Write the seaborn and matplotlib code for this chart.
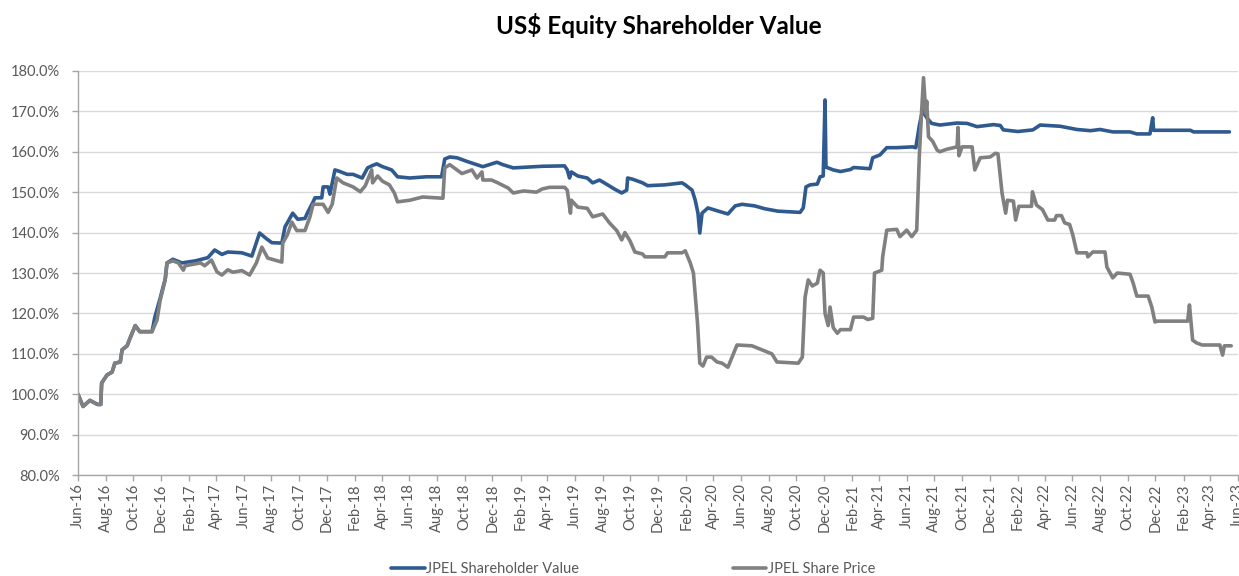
import matplotlib
matplotlib.use("Agg")
import matplotlib.pyplot as plt
import matplotlib.dates as mdates
from matplotlib.ticker import PercentFormatter, MultipleLocator
import seaborn as sns
import pandas as pd

# Series (valores en %)
fechas_precio = [
    "2016-06-01", "2016-06-12", "2016-06-27", "2016-07-14", "2016-07-21", "2016-07-23",
    "2016-08-04", "2016-08-15", "2016-08-21", "2016-09-02", "2016-09-06", "2016-09-17",
    "2016-09-24", "2016-10-05", "2016-10-15", "2016-11-11", "2016-11-22", "2016-11-29",
    "2016-12-10", "2016-12-14", "2016-12-27", "2017-01-08", "2017-01-19", "2017-01-23",
    "2017-02-26", "2017-03-07", "2017-03-22", "2017-04-03", "2017-04-14", "2017-04-27",
    "2017-05-08", "2017-05-28", "2017-06-14", "2017-06-29", "2017-07-11", "2017-07-24",
    "2017-08-24", "2017-08-26", "2017-09-05", "2017-09-15", "2017-09-26", "2017-10-14",
    "2017-10-25", "2017-11-01", "2017-11-23", "2017-12-04", "2017-12-13", "2017-12-23",
    "2018-01-06", "2018-01-28", "2018-02-13", "2018-02-24", "2018-03-10", "2018-03-12",
    "2018-03-23", "2018-04-03", "2018-04-18", "2018-04-29", "2018-05-06", "2018-06-02",
    "2018-06-30", "2018-08-14", "2018-08-18", "2018-08-29", "2018-09-14", "2018-09-25",
    "2018-10-17", "2018-10-28", "2018-11-08", "2018-11-10", "2018-11-29", "2018-12-13",
    "2019-01-05", "2019-01-16", "2019-02-08", "2019-03-08", "2019-03-21", "2019-04-06",
    "2019-05-09", "2019-05-15", "2019-05-22", "2019-05-24", "2019-06-07", "2019-06-28",
    "2019-07-10", "2019-08-01", "2019-08-16", "2019-09-01", "2019-09-12", "2019-09-19",
    "2019-09-30", "2019-10-11", "2019-10-28", "2019-11-02", "2019-12-16", "2019-12-22",
    "2020-01-23", "2020-01-30", "2020-02-10", "2020-02-17", "2020-02-26", "2020-03-02",
    "2020-03-09", "2020-03-17", "2020-03-28", "2020-04-09", "2020-04-20", "2020-05-03",
    "2020-05-12", "2020-05-23", "2020-06-25", "2020-07-17", "2020-08-08", "2020-08-19",
    "2020-10-05", "2020-10-14", "2020-10-20", "2020-10-27", "2020-11-05", "2020-11-16",
    "2020-11-22", "2020-11-29", "2020-12-03", "2020-12-10", "2020-12-14", "2020-12-21",
    "2020-12-30", "2021-01-06", "2021-01-28", "2021-02-04", "2021-02-26", "2021-03-07",
    "2021-03-18", "2021-03-22", "2021-04-07", "2021-04-09", "2021-04-18", "2021-05-10",
    "2021-05-17", "2021-06-01", "2021-06-12", "2021-06-23", "2021-06-29", "2021-07-04",
    "2021-07-08", "2021-07-13", "2021-07-15", "2021-07-19", "2021-07-28", "2021-08-07",
    "2021-08-13", "2021-08-28", "2021-09-20", "2021-09-22", "2021-09-24", "2021-10-01",
    "2021-10-23", "2021-10-29", "2021-11-10", "2021-12-02", "2021-12-13", "2021-12-19",
    "2021-12-28", "2022-01-05", "2022-01-09", "2022-01-22", "2022-01-27", "2022-02-03",
    "2022-03-03", "2022-03-05", "2022-03-14", "2022-03-27", "2022-04-08", "2022-04-23",
    "2022-04-27", "2022-05-08", "2022-05-15", "2022-05-26", "2022-06-02", "2022-06-11",
    "2022-07-03", "2022-07-05", "2022-07-16", "2022-08-12", "2022-08-16", "2022-08-29",
    "2022-09-08", "2022-10-06", "2022-10-13", "2022-10-21", "2022-11-15", "2022-11-23",
    "2022-11-30", "2022-12-05", "2023-02-10", "2023-02-14", "2023-02-21", "2023-03-02",
    "2023-03-14", "2023-04-22", "2023-04-28", "2023-05-02", "2023-05-17",
]
valores_precio = [
    100.0, 97.0, 98.5, 97.5, 97.5, 102.8,
    104.8, 105.5, 107.7, 108.0, 111.0, 112.0,
    114.0, 117.0, 115.5, 115.5, 118.4, 123.3,
    128.3, 132.5, 133.0, 132.5, 130.7, 131.8,
    132.5, 131.8, 133.2, 130.3, 129.5, 130.8,
    130.2, 130.6, 129.5, 132.5, 136.4, 133.7,
    132.7, 137.4, 139.4, 142.6, 140.5, 140.5,
    143.9, 147.0, 147.0, 145.0, 147.0, 153.5,
    152.3, 151.3, 150.1, 151.6, 155.5, 152.3,
    154.0, 152.7, 151.8, 149.8, 147.6, 148.0,
    148.8, 148.5, 156.0, 156.8, 155.5, 154.6,
    155.5, 153.5, 155.0, 153.0, 153.0, 152.3,
    151.0, 149.8, 150.3, 150.0, 150.8, 151.2,
    151.2, 150.5, 144.8, 148.0, 146.3, 146.0,
    143.9, 144.6, 142.4, 140.5, 138.2, 140.0,
    138.0, 135.2, 134.7, 134.0, 134.0, 135.0,
    135.0, 135.5, 132.5, 130.0, 117.6, 107.7,
    107.0, 109.2, 109.2, 108.0, 107.7, 106.7,
    109.2, 112.2, 112.0, 111.0, 110.0, 108.0,
    107.7, 109.2, 124.0, 128.3, 126.8, 127.5,
    130.7, 130.0, 120.0, 117.0, 121.6, 116.5,
    115.1, 116.0, 116.0, 119.1, 119.1, 118.5,
    118.8, 130.0, 130.7, 134.0, 140.6, 140.8,
    139.0, 140.6, 139.0, 140.6, 159.6, 170.3,
    178.3, 169.5, 172.5, 163.7, 162.6, 160.4,
    160.0, 160.6, 161.2, 166.0, 159.0, 161.2,
    161.2, 155.5, 158.5, 158.7, 159.6, 159.5,
    149.8, 144.8, 148.0, 147.8, 143.1, 146.5,
    146.5, 150.1, 146.8, 145.7, 143.1, 143.1,
    144.2, 144.2, 142.4, 142.0, 139.4, 135.0,
    135.0, 134.0, 135.2, 135.2, 131.5, 128.8,
    130.0, 129.7, 127.5, 124.3, 124.3, 121.6,
    117.9, 118.1, 118.1, 122.1, 113.4, 112.7,
    112.2, 112.2, 109.7, 112.0, 112.0,
]

fechas_valor = [
    "2016-06-01", "2016-06-12", "2016-06-27", "2016-07-14", "2016-07-21", "2016-07-23",
    "2016-08-04", "2016-08-15", "2016-08-21", "2016-09-02", "2016-09-06", "2016-09-17",
    "2016-09-24", "2016-10-05", "2016-10-15", "2016-11-11", "2016-11-17", "2016-11-29",
    "2016-12-10", "2016-12-14", "2016-12-27", "2017-01-16", "2017-02-14", "2017-03-14",
    "2017-03-29", "2017-04-14", "2017-04-27", "2017-05-28", "2017-06-19", "2017-07-06",
    "2017-07-21", "2017-08-02", "2017-08-24", "2017-08-31", "2017-09-17", "2017-09-28",
    "2017-10-14", "2017-10-20", "2017-11-01", "2017-11-05", "2017-11-20", "2017-11-23",
    "2017-12-04", "2017-12-08", "2017-12-19", "2017-12-30", "2018-01-15", "2018-01-28",
    "2018-02-17", "2018-03-01", "2018-03-10", "2018-03-21", "2018-04-03", "2018-04-23",
    "2018-05-06", "2018-06-02", "2018-07-09", "2018-08-11", "2018-08-18", "2018-08-29",
    "2018-09-14", "2018-10-06", "2018-10-28", "2018-11-10", "2018-12-11", "2018-12-24",
    "2019-01-16", "2019-02-16", "2019-03-21", "2019-05-09", "2019-05-15", "2019-05-20",
    "2019-05-24", "2019-06-07", "2019-06-28", "2019-07-10", "2019-07-25", "2019-08-12",
    "2019-08-28", "2019-09-12", "2019-09-23", "2019-09-25", "2019-10-06", "2019-10-28",
    "2019-11-08", "2019-12-16", "2020-01-23", "2020-01-30", "2020-02-14", "2020-02-21",
    "2020-02-27", "2020-03-02", "2020-03-07", "2020-03-20", "2020-04-12", "2020-05-03",
    "2020-05-19", "2020-06-03", "2020-07-01", "2020-07-23", "2020-08-21", "2020-10-09",
    "2020-10-16", "2020-10-22", "2020-10-31", "2020-11-16", "2020-11-22", "2020-11-29",
    "2020-12-03", "2020-12-05", "2020-12-21", "2021-01-06", "2021-01-28", "2021-02-04",
    "2021-03-12", "2021-03-18", "2021-04-03", "2021-04-18", "2021-05-10", "2021-06-14",
    "2021-06-21", "2021-06-29", "2021-07-06", "2021-07-15", "2021-07-26", "2021-08-13",
    "2021-09-20", "2021-10-12", "2021-11-03", "2021-12-09", "2021-12-24", "2021-12-31",
    "2022-02-01", "2022-03-06", "2022-03-22", "2022-05-05", "2022-06-11", "2022-07-11",
    "2022-08-01", "2022-08-29", "2022-10-06", "2022-10-21", "2022-11-19", "2022-11-25",
    "2022-11-27", "2023-02-16", "2023-02-23", "2023-05-13",
]
valores_valor = [
    100.0, 97.0, 98.5, 97.5, 97.5, 102.8,
    104.8, 105.5, 107.7, 108.0, 111.0, 112.0,
    114.0, 117.0, 115.5, 115.5, 119.0, 123.8,
    128.5, 132.5, 133.4, 132.5, 133.0, 133.8,
    135.7, 134.6, 135.2, 135.0, 134.2, 139.9,
    138.5, 137.5, 137.4, 141.4, 144.8, 143.3,
    143.5, 145.0, 147.6, 148.6, 148.6, 151.3,
    151.3, 149.5, 155.5, 155.1, 154.4, 154.4,
    153.5, 156.0, 156.5, 157.0, 156.3, 155.5,
    153.8, 153.5, 153.8, 153.8, 158.2, 158.7,
    158.5, 157.6, 156.8, 156.3, 157.4, 156.8,
    156.0, 156.2, 156.4, 156.5, 155.5, 153.5,
    155.0, 154.0, 153.5, 152.3, 153.0, 151.8,
    150.7, 149.8, 150.5, 153.5, 153.2, 152.3,
    151.6, 151.8, 152.3, 151.8, 150.5, 148.0,
    144.8, 139.9, 144.8, 146.1, 145.3, 144.6,
    146.6, 147.0, 146.6, 145.9, 145.3, 145.0,
    146.1, 151.3, 151.8, 152.0, 153.8, 154.0,
    172.8, 156.2, 155.5, 155.1, 155.6, 156.1,
    155.8, 158.5, 159.2, 161.0, 161.0, 161.2,
    161.0, 166.6, 170.3, 168.4, 167.0, 166.6,
    167.1, 167.0, 166.2, 166.7, 166.5, 165.4,
    165.0, 165.4, 166.6, 166.3, 165.5, 165.2,
    165.5, 164.9, 164.9, 164.4, 164.4, 168.4,
    165.3, 165.3, 164.9, 164.9,
]

serie_valor = "JPEL Shareholder Value"
serie_precio = "JPEL Share Price"
AZUL = "#2F5A8F"
GRIS = "#808080"

df = pd.concat([
    pd.DataFrame({"fecha": pd.to_datetime(fechas_valor), "valor": valores_valor, "serie": serie_valor}),
    pd.DataFrame({"fecha": pd.to_datetime(fechas_precio), "valor": valores_precio, "serie": serie_precio}),
], ignore_index=True)

sns.set_theme(style="white")
plt.rcParams["font.family"] = ["Lato", "DejaVu Sans"]

fig = plt.figure(figsize=(12.39, 5.76), dpi=100)
ax = fig.add_axes([0.063, 0.175, 0.9362, 0.702])

sns.lineplot(data=df, x="fecha", y="valor", hue="serie", hue_order=[serie_valor, serie_precio],
             palette=[AZUL, GRIS], estimator=None, sort=False, linewidth=2.6, ax=ax)

ax.set_ylim(80, 180)
ax.yaxis.set_major_locator(MultipleLocator(10))
ax.yaxis.set_major_formatter(PercentFormatter(xmax=100, decimals=1))
ax.set_xlim(pd.Timestamp("2016-06-01"), pd.Timestamp("2023-06-01"))
ax.xaxis.set_major_locator(mdates.MonthLocator(bymonth=[2, 4, 6, 8, 10, 12]))
ax.xaxis.set_major_formatter(mdates.DateFormatter("%b-%y"))

ax.yaxis.grid(True, color="#D9D9D9", linewidth=1)
ax.set_axisbelow(True)
for lado in ["top", "right"]:
    ax.spines[lado].set_visible(False)
for lado in ["left", "bottom"]:
    ax.spines[lado].set_color("#A6A6A6")
    ax.spines[lado].set_linewidth(1)

ax.tick_params(axis="x", direction="out", length=4, width=1, color="#A6A6A6",
               labelcolor="#595959", labelsize=10.5, labelrotation=90, pad=2, bottom=True)
ax.tick_params(axis="y", direction="out", length=4, width=1, color="#A6A6A6",
               labelcolor="#595959", labelsize=10.5, pad=9, left=True)
ax.set_xlabel("")
ax.set_ylabel("")

fig.suptitle("US$ Equity Shareholder Value", x=0.532, y=0.978, fontsize=17.5,
             fontweight="bold", color="black")

handles, labels = ax.get_legend_handles_labels()
ax.get_legend().remove()
fig.legend(handles, labels, loc="center", bbox_to_anchor=(0.511, 0.012), ncol=2,
           frameon=False, fontsize=10.5, labelcolor="#595959", handlelength=2.3,
           handletextpad=0.1, columnspacing=10.5)

fig.savefig("out.png", dpi=100)
